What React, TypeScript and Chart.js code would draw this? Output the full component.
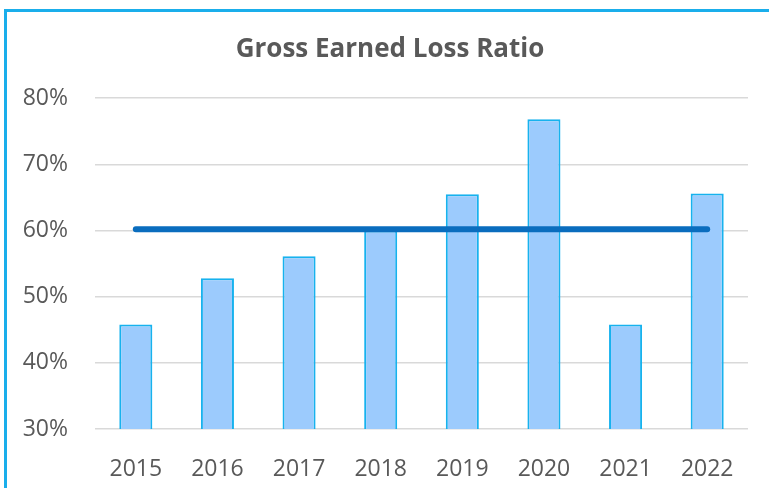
import React, { useEffect, useRef } from "react";
import { Chart, registerables } from "chart.js";

Chart.register(...registerables);

const categories = ["2015", "2016", "2017", "2018", "2019", "2020", "2021", "2022"];
const lossRatio = [45.8, 52.8, 56.1, 60.0, 65.5, 76.8, 45.8, 65.6];
const averageLine = [60.2, 60.2, 60.2, 60.2, 60.2, 60.2, 60.2, 60.2];
const yTicks = [30, 40, 50, 60, 70, 80];

export default function App() {
  const ref = useRef<HTMLCanvasElement | null>(null);

  useEffect(() => {
    if (!ref.current) return;
    const font = "'Open Sans', 'Noto Sans', sans-serif";
    const chart = new Chart(ref.current, {
      type: "bar",
      data: {
        labels: categories,
        datasets: [
          {
            type: "line",
            label: "Average",
            data: averageLine,
            borderColor: "#0A6DBE",
            borderWidth: 6,
            borderCapStyle: "round",
            pointRadius: 0,
            fill: false,
            order: 0,
          } as any,
          {
            type: "bar",
            label: "Gross Earned Loss Ratio",
            data: lossRatio,
            backgroundColor: "#9CCBFD",
            borderColor: "#17B2EE",
            borderWidth: 2,
            categoryPercentage: 1,
            barPercentage: 0.405,
            order: 1,
          } as any,
        ],
      },
      options: {
        animation: false,
        responsive: false,
        maintainAspectRatio: false,
        layout: { padding: { left: 11, right: 0, top: 0, bottom: 0 } },
        plugins: {
          legend: { display: false },
          tooltip: { enabled: false },
          title: {
            display: true,
            text: "Gross Earned Loss Ratio",
            color: "#595959",
            font: { family: font, size: 26, weight: "bold" },
            padding: { top: 34, bottom: 33 },
          },
        },
        scales: {
          x: {
            grid: { display: false },
            border: { display: false },
            ticks: {
              color: "#595959",
              font: { family: font, size: 23 },
              padding: 19,
              maxRotation: 0,
            },
            afterFit: (s: any) => {
              s.height = 488 - 429;
            },
          },
          y: {
            min: 30,
            max: 80,
            afterBuildTicks: (s: any) => {
              s.ticks = yTicks.map((v) => ({ value: v }));
            },
            grid: { color: "#D9D9D9", lineWidth: 1.5, drawTicks: false },
            border: { display: false },
            ticks: {
              color: "#595959",
              font: { family: font, size: 23 },
              padding: 27,
              callback: (v: any) => v + "%",
            },
            afterFit: (s: any) => {
              s.width = 84;
            },
          },
          y2: {
            type: "linear",
            position: "right",
            min: 30,
            max: 80,
            grid: { display: false, drawTicks: false },
            border: { display: false },
            ticks: { display: false },
            afterFit: (s: any) => {
              s.width = 21;
            },
          },
        },
      },
    });
    return () => chart.destroy();
  }, []);

  return (
    <div
      style={{
        position: "absolute",
        left: 0,
        top: 0,
        width: 769,
        height: 488,
        overflow: "hidden",
        background: "#fff",
      }}
    >
      <div
        style={{
          position: "absolute",
          left: 4,
          top: 9,
          width: 800,
          height: 520,
          border: "3px solid #1AAEEB",
          boxSizing: "border-box",
        }}
      />
      <canvas
        ref={ref}
        width={769}
        height={488}
        style={{ position: "absolute", left: 0, top: 0, width: 769, height: 488 }}
      />
    </div>
  );
}
